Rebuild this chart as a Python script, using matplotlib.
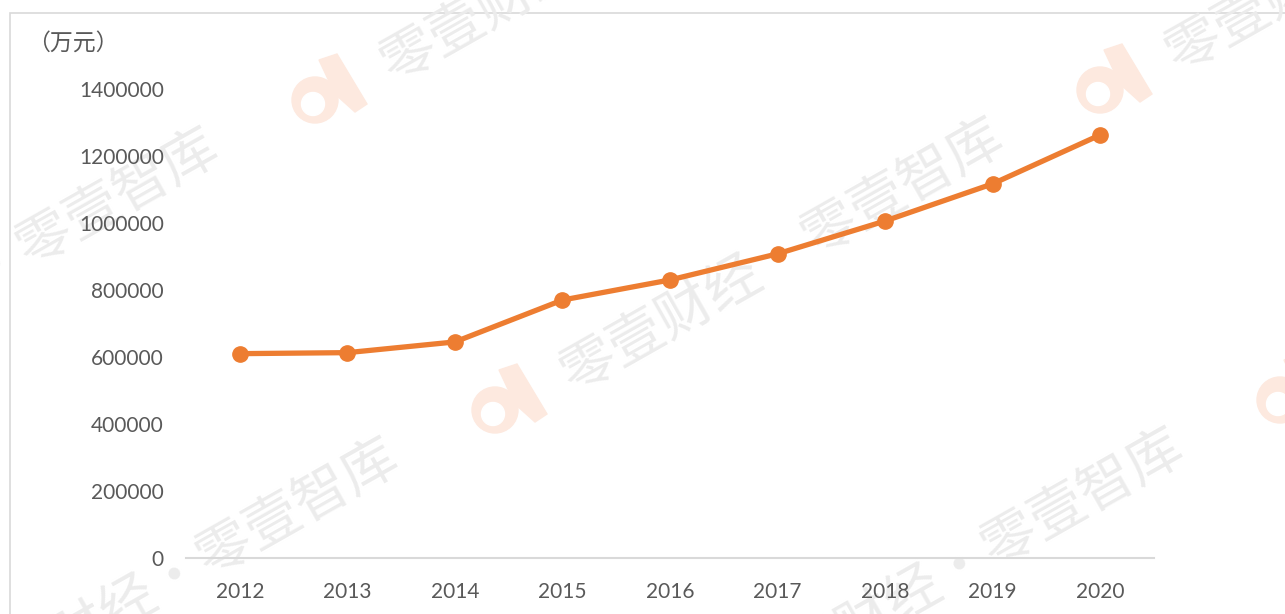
import matplotlib.pyplot as plt
from matplotlib.patches import Circle, Polygon, Rectangle

# 数据（万元）
years = ['2012', '2013', '2014', '2015', '2016', '2017', '2018', '2019', '2020']
values = [610000, 613000, 645000, 770000, 830000, 908000, 1006000, 1117000, 1263000]
yticks = [0, 200000, 400000, 600000, 800000, 1000000, 1200000, 1400000]

W, H = 1285, 614
fig = plt.figure(figsize=(W / 100, H / 100), dpi=100)
fig.patch.set_facecolor('white')

# 外框
fig.patches.append(Rectangle((10 / W, -0.1), 1.2, 1.1 - 13 / H, transform=fig.transFigure,
                             fill=False, edgecolor='#D9D9D9', linewidth=1.2, zorder=0))

# 水印
wm_color = '#ECECEC'
logo_color = '#FDE9DF'
origin = (315, 100)
v1 = (605, -320)
v2 = (180, 310)
for j in range(-1, 3):
    for i in range(-2, 3):
        lx = origin[0] + i * v1[0] + j * v2[0]
        ly = origin[1] + i * v1[1] + j * v2[1]
        if -400 < lx < W + 100 and -200 < ly < H + 200:
            cx, cy = lx / 100, (H - ly) / 100
            tail = [(4, -40), (22, -46), (52, 4), (40, 12), (20, -6)]
            fig.patches.append(Polygon([(cx + dx / 100, cy - dy / 100) for dx, dy in tail],
                                       closed=True, transform=fig.dpi_scale_trans,
                                       color=logo_color, zorder=0.2))
            fig.patches.append(Circle((cx, cy), 0.23, transform=fig.dpi_scale_trans,
                                      color=logo_color, zorder=0.2))
            fig.patches.append(Circle((cx - 0.02, cy - 0.04), 0.115, transform=fig.dpi_scale_trans,
                                      color='white', zorder=0.3))
        tx, ty = lx + 287, ly - 153
        if -400 < tx < W + 400 and -300 < ty < H + 300:
            fig.text(tx / W, 1 - ty / H, '零壹财经·零壹智库', rotation=29.5,
                     rotation_mode='anchor', ha='center', va='center',
                     fontsize=40, color=wm_color, family='Noto Sans CJK SC', zorder=0.4)

ax = fig.add_axes([186 / W, 56 / H, (1154 - 186) / W, (558 - 89) / H])
ax.set_zorder(1)
ax.patch.set_alpha(0)

x = list(range(len(years)))
ax.plot(x, values, color='#ED7D31', linewidth=3.8, marker='o', markersize=11,
        solid_capstyle='round', zorder=3)

ax.set_xlim(-0.5, len(years) - 0.5)
ax.set_ylim(0, 1400000)
ax.set_xticks(x)
ax.set_xticklabels(years)
ax.set_yticks(yticks)
ax.set_yticklabels([str(v) for v in yticks])
ax.tick_params(axis='both', length=0, labelsize=15, labelcolor='#595959')
ax.tick_params(axis='x', pad=17)
ax.tick_params(axis='y', pad=16)
for lab in ax.get_xticklabels() + ax.get_yticklabels():
    lab.set_family('Lato')

for s in ['top', 'right', 'left']:
    ax.spines[s].set_visible(False)
ax.spines['bottom'].set_color('#D9D9D9')
ax.spines['bottom'].set_linewidth(1.5)

fig.text(27 / W, 1 - 43 / H, '（万元）', ha='left', va='center', fontsize=16.5,
         color='#595959', family='Noto Sans CJK SC')

fig.savefig('out.png', dpi=100)
